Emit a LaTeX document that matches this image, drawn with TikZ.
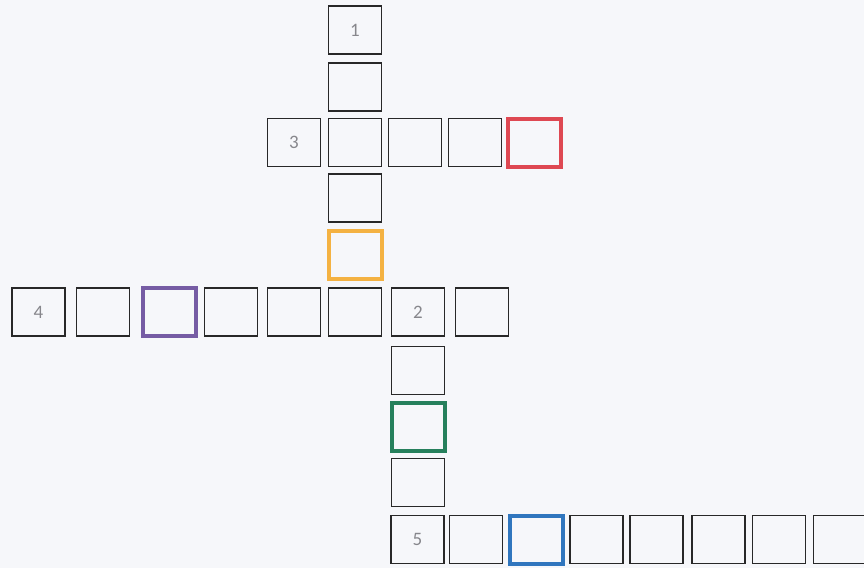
\documentclass[tikz,border=0pt]{standalone}
\usepackage{fontspec}
\setmainfont{Carlito}
\definecolor{paper}{RGB}{246,247,250}
\definecolor{ink}{RGB}{40,40,40}
\definecolor{numgray}{RGB}{135,135,140}
\definecolor{cred}{RGB}{222,72,82}
\definecolor{corange}{RGB}{244,178,66}
\definecolor{cpurple}{RGB}{118,92,164}
\definecolor{cgreen}{RGB}{38,128,92}
\definecolor{cblue}{RGB}{48,118,190}
\tikzset{
  cell/.style={draw=ink, line width=1.6pt, minimum width=53pt, minimum height=48pt,
    inner sep=0pt, text=numgray, font=\fontsize{19}{19}\selectfont},
  hot/.style={cell, line width=4pt, draw=#1}
}
\begin{document}
\begin{tikzpicture}[x=1pt,y=-1pt]
\fill[paper] (0,0) rectangle (864,568);
\useasboundingbox (0,0) rectangle (864,568);
\begin{scope}
\clip (0,0) rectangle (864,568);
% column 1 (down)
\node[cell] (a1) at (355,30) {1};
\node[cell] (a2) at (355,87) {};
\node[cell] (a3) at (355,142.5) {};
\node[cell] (a4) at (355,198) {};
\node[hot=corange] (a5) at (355,254.5) {};
% row 3 (across)
\node[cell] (c0) at (294,142.5) {3};
\node[cell] (c2) at (415,142.5) {};
\node[cell] (c3) at (475,142.5) {};
\node[hot=cred] (c4) at (534.5,142.5) {};
% row 4 (across)
\node[cell] (d0) at (38.5,312) {4};
\node[cell] (d1) at (103,312) {};
\node[hot=cpurple] (d2) at (169,312) {};
\node[cell] (d3) at (231,312) {};
\node[cell] (d4) at (294,312) {};
\node[cell] (d5) at (355,312) {};
\node[cell] (d6) at (418,312) {2};
\node[cell] (d7) at (482,312) {};
% column 2 (down)
\node[cell] (b1) at (418,370.5) {};
\node[hot=cgreen] (b2) at (418,427) {};
\node[cell] (b3) at (418,482.5) {};
% row 5 (across)
\node[cell] (e0) at (417.5,539.5) {5};
\node[cell] (e1) at (476,539.5) {};
\node[hot=cblue] (e2) at (536.5,539.5) {};
\node[cell] (e3) at (596.5,539.5) {};
\node[cell] (e4) at (656.5,539.5) {};
\node[cell] (e5) at (718.5,539.5) {};
\node[cell] (e6) at (779,539.5) {};
\node[cell] (e7) at (840,539.5) {};
\end{scope}
\end{tikzpicture}
\end{document}
